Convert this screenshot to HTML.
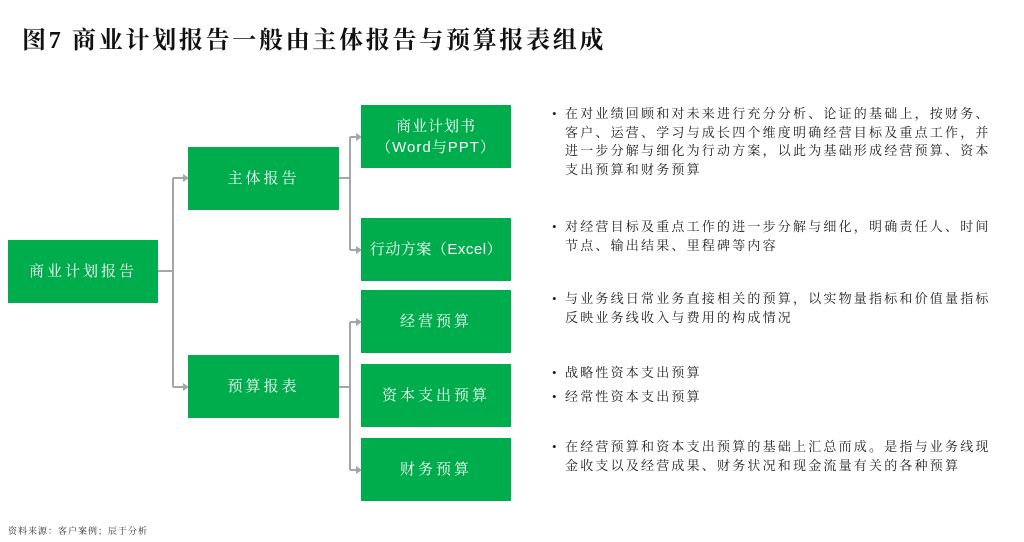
<!DOCTYPE html>
<html><head><meta charset="utf-8"><style>
body{margin:0;width:1024px;height:542px;background:#fff;position:relative;overflow:hidden;font-family:"Liberation Serif","Noto Serif CJK SC",serif;}
.t{position:absolute;left:22px;top:20px;font-size:24px;font-weight:bold;letter-spacing:2.7px;color:#111;white-space:nowrap}
.b{position:absolute;background:#00ad4c;color:#fff;display:flex;align-items:center;justify-content:center;text-align:center;font-size:15px;letter-spacing:3px;line-height:21px;font-family:"Liberation Sans","Noto Serif CJK SC",sans-serif}
.p{position:absolute;left:565px;font-size:13px;letter-spacing:2.2px;line-height:18.6px;color:#222;white-space:nowrap}
.p:before{content:"•";position:absolute;left:-13px;letter-spacing:0}
.f{position:absolute;left:8px;top:524px;font-size:9px;color:#333;letter-spacing:1px}
</style></head><body>
<div class="t">图7 商业计划报告一般由主体报告与预算报表组成</div>
<svg width="1024" height="542" style="position:absolute;left:0;top:0">
<g stroke="#a6a6a6" stroke-width="2" fill="none">
<path d="M158 271H173M173 178V387M173 178H184M173 387H184"/>
<path d="M339 178H350M350 137V250M350 137H357M350 250H357"/>
<path d="M339 387H350M350 322V470M350 322H357M350 470H357"/>
</g>
<g fill="#a6a6a6">
<path d="M183 174L189 178L183 182Z"/><path d="M183 383L189 387L183 391Z"/>
<path d="M356 133L362 137L356 141Z"/><path d="M356 246L362 250L356 254Z"/>
<path d="M356 318L362 322L356 326Z"/><path d="M356 466L362 470L356 474Z"/>
</g>
</svg>
<div class="b" style="left:8px;top:240px;width:150px;height:63px">商业计划报告</div>
<div class="b" style="left:188px;top:147px;width:151px;height:63px">主体报告</div>
<div class="b" style="left:188px;top:355px;width:151px;height:63px">预算报表</div>
<div class="b" style="left:361px;top:105px;width:150px;height:63px;letter-spacing:1px">商业计划书<br>（Word与PPT）</div>
<div class="b" style="left:361px;top:218px;width:150px;height:63px;letter-spacing:0.5px">行动方案（Excel）</div>
<div class="b" style="left:361px;top:290px;width:150px;height:63px">经营预算</div>
<div class="b" style="left:361px;top:364px;width:150px;height:63px">资本支出预算</div>
<div class="b" style="left:361px;top:438px;width:150px;height:63px">财务预算</div>
<div class="p" style="top:105px">在对业绩回顾和对未来进行充分分析、论证的基础上，按财务、<br>客户、运营、学习与成长四个维度明确经营目标及重点工作，并<br>进一步分解与细化为行动方案，以此为基础形成经营预算、资本<br>支出预算和财务预算</div>
<div class="p" style="top:218px">对经营目标及重点工作的进一步分解与细化，明确责任人、时间<br>节点、输出结果、里程碑等内容</div>
<div class="p" style="top:290px">与业务线日常业务直接相关的预算，以实物量指标和价值量指标<br>反映业务线收入与费用的构成情况</div>
<div class="p" style="top:364px">战略性资本支出预算</div>
<div class="p" style="top:388px">经常性资本支出预算</div>
<div class="p" style="top:438px">在经营预算和资本支出预算的基础上汇总而成。是指与业务线现<br>金收支以及经营成果、财务状况和现金流量有关的各种预算</div>
<div class="f">资料来源：客户案例；辰于分析</div>
</body></html>
